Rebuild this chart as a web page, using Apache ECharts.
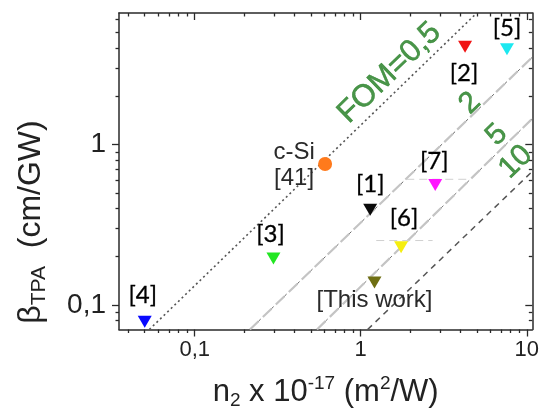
<!DOCTYPE html>
<html><head><meta charset="utf-8">
<script src="https://cdn.jsdelivr.net/npm/echarts@6/dist/echarts.min.js"></script>
<style>html,body{margin:0;padding:0;background:#fff}#c{width:542px;height:416px}</style>
</head><body><div id="c"></div>
<script>
// ---- data ----
const pointNames = ['[4]', '[3]', 'c-Si\n[41]', '[1]', '[This work]', '[6]', '[7]', '[2]', '[5]'];
const n2Values   = [0.05, 0.298, 0.61, 1.14, 1.21, 1.75, 2.81, 4.25, 7.6];
const betaValues = [0.0787, 0.195, 0.756, 0.392, 0.138, 0.229, 0.56, 4.07, 3.92];

const fomLine05 = [[0.0533, 0.0703], [5.0, 6.6]];
const fomLine2  = [[0.215, 0.0703], [10.8, 3.5]];
const fomLine5  = [[0.545, 0.0703], [10.8, 1.45]];
const fomLine10 = [[1.1, 0.0703], [10.8, 0.68]];
const errBar7 = [[1.88, 0.607], [4.59, 0.607]];
const errBar6 = [[1.24, 0.252], [2.71, 0.252]];

const fomTexts = ['FOM=0,5', '2', '5', '10'];
const fomTextAnchors = [[1.49, 2.79], [4.55, 1.81], [6.6, 1.146], [8.57, 0.778]];

const xMajorTicks = [0.1, 1, 10];
const xMinorTicks = [0.04, 0.05, 0.06, 0.07, 0.08, 0.09, 0.2, 0.3, 0.4, 0.5, 0.6, 0.7, 0.8, 0.9, 2, 3, 4, 5, 6, 7, 8, 9];
const yMajorTicks = [0.1, 1];
const yMinorTicks = [0.08, 0.09, 0.2, 0.3, 0.4, 0.5, 0.6, 0.7, 0.8, 0.9, 2, 3, 4, 5, 6];
const xRange = [0.035, 10.8];
const yRange = [0.0703, 6.6];

// ---- styles ----
const pointColors = ['#0a0aff', '#22e622', '#ff7a1c', '#0a0a0a', '#6e6e12', '#f5ee10', '#ff14ff', '#f01414', '#1ce8f0'];
const labelOffsets = [[-2, -26], [-3, -24], [-31, 1], [0, -25], [0, 18], [3, -29], [-1, -24], [-1, 27], [0, -21]];
const axisColor = '#2a2a2a';
const tickFont = 'Liberation Sans, Arial, sans-serif';

const chart = echarts.init(document.getElementById('c'), null, {renderer: 'canvas'});

function fmt(v) { return String(v).replace('.', ','); }

function mkAxis(pos, major, minor, isMajor, inside, showLine, isX) {
  const range = isX ? xRange : yRange;
  return {
    type: 'log', logBase: 10, position: pos, min: range[0], max: range[1],
    gridIndex: 0,
    axisLine: {show: showLine, lineStyle: {color: axisColor, width: 1.5}},
    axisTick: {show: true, inside: inside, length: isMajor ? 7 : 3.5,
      customValues: isMajor ? major : minor, lineStyle: {color: axisColor, width: 1.3}},
    minorTick: {show: false},
    splitLine: {show: false},
    axisLabel: {show: false}
  };
}

const xAxes = [
  mkAxis('bottom', xMajorTicks, xMinorTicks, true, false, true, true),
  mkAxis('bottom', xMajorTicks, xMinorTicks, false, false, false, true),
  mkAxis('top', xMajorTicks, xMinorTicks, true, true, true, true),
  mkAxis('top', xMajorTicks, xMinorTicks, false, true, false, true)
];
xAxes[0].axisLabel = {show: true, customValues: xMajorTicks, formatter: fmt, fontSize: 22,
  fontFamily: tickFont, color: '#222', margin: 9};
xAxes[0].name = '{b|n}{sub|2}{b| x 10}{sup|-17}{b| (m}{sup|2}{b|/W)}';
xAxes[0].nameLocation = 'middle';
xAxes[0].nameGap = 45;
xAxes[0].nameTextStyle = {
  rich: {
    b: {fontSize: 31, fontFamily: tickFont, color: '#222', lineHeight: 36},
    sub: {fontSize: 19, fontFamily: tickFont, color: '#222', lineHeight: 36, verticalAlign: 'bottom'},
    sup: {fontSize: 19, fontFamily: tickFont, color: '#222', lineHeight: 22, verticalAlign: 'top'}
  }
};

const yAxes = [
  mkAxis('left', yMajorTicks, yMinorTicks, true, false, true, false),
  mkAxis('left', yMajorTicks, yMinorTicks, false, false, false, false),
  mkAxis('right', yMajorTicks, yMinorTicks, true, true, true, false),
  mkAxis('right', yMajorTicks, yMinorTicks, false, true, false, false)
];
yAxes[0].axisLabel = {show: true, customValues: yMajorTicks, formatter: fmt, fontSize: 28,
  fontFamily: tickFont, color: '#222', margin: 13};

function lineSeries(data, style) {
  return {type: 'line', xAxisIndex: 0, yAxisIndex: 0, data: data, showSymbol: false, symbol: 'none',
    silent: true, animation: false, lineStyle: style, z: 2};
}

const series = [
  lineSeries(fomLine05, {color: '#555', width: 1.6, type: [2, 3]}),
  lineSeries(fomLine2, {color: '#c4c4c4', width: 2.2, type: [12, 6]}),
  lineSeries(fomLine2, {color: '#666', width: 1, type: [3, 15], dashOffset: -12}),
  lineSeries(fomLine5, {color: '#c4c4c4', width: 2.2, type: [12, 6]}),
  lineSeries(fomLine5, {color: '#777', width: 1, type: [3, 15], dashOffset: -12}),
  lineSeries(fomLine10, {color: '#555', width: 1.5, type: [6, 5]}),
  lineSeries(errBar7, {color: '#d0d0d0', width: 1, type: [8, 5]}),
  lineSeries(errBar6, {color: '#d0d0d0', width: 1, type: [8, 5]}),
  {
    type: 'scatter', xAxisIndex: 0, yAxisIndex: 0, z: 5, animation: false,
    data: pointNames.map((name, i) => {
      const isCirc = name.indexOf('c-Si') === 0;
      const isArial = isCirc || name === '[This work]';
      const col = isArial ? '#2a2a2a' : '#000';
      return {
        name: name,
        value: [n2Values[i], betaValues[i]],
        symbol: isCirc ? 'circle' : 'triangle',
        symbolSize: isCirc ? 14 : [14, 12],
        symbolRotate: isCirc ? 0 : 180,
        itemStyle: {color: pointColors[i], opacity: 1},
        label: {
          show: true, formatter: name, position: 'inside', offset: labelOffsets[i],
          align: 'center', verticalAlign: 'middle',
          fontSize: 24, lineHeight: 26, textBorderWidth: isArial ? 0 : 0.3, textBorderColor: col,
          fontFamily: isArial ? tickFont : 'Lato, Noto Sans, sans-serif',
          color: col
        }
      };
    })
  },
  {
    type: 'scatter', xAxisIndex: 0, yAxisIndex: 0, z: 4, animation: false, silent: true,
    symbolSize: 0,
    data: fomTexts.map((t, i) => ({
      value: fomTextAnchors[i],
      label: {show: true, formatter: t, position: 'inside', rotate: 44,
        align: 'center', verticalAlign: 'middle', textBorderWidth: 0.5, textBorderColor: '#1d7a1d',
        fontSize: i === 0 ? 31 : 30, fontFamily: tickFont, color: '#1d7a1d'}
    }))
  }
];

chart.setOption({
  animation: false,
  backgroundColor: '#fff',
  grid: {left: 119, right: 8.5, top: 13, bottom: 86.5, containLabel: false},
  xAxis: xAxes,
  yAxis: yAxes,
  series: series,
  graphic: [{
    type: 'text', x: 31, y: 222, rotation: Math.PI / 2,
    style: {
      text: '{b|β}{s|TPA}{b|  (cm/GW)}',
      align: 'center', verticalAlign: 'middle',
      rich: {
        b: {fontSize: 32, fontFamily: tickFont, fill: '#222', lineHeight: 38},
        s: {fontSize: 21, fontFamily: tickFont, fill: '#222', lineHeight: 38, verticalAlign: 'bottom'}
      }
    }
  }]
});
</script>
</body></html>
